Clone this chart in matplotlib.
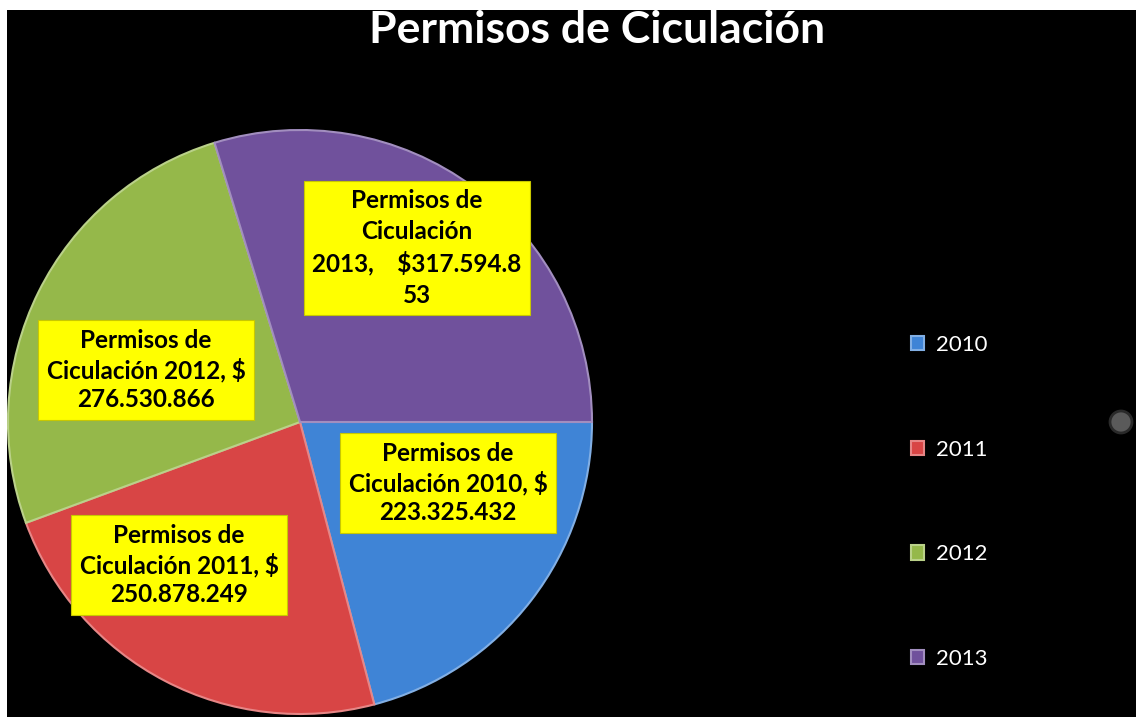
import matplotlib.pyplot as plt
from matplotlib.patches import Ellipse
import matplotlib.colors as mcolors

years = ['2010', '2011', '2012', '2013']
valores = [223325432, 250878249, 276530866, 317594853]
colores = ['#3F84D6', '#D84545', '#95B84A', '#70519C']

W, H = 1136, 717

def fmt(v):
    return '{:,}'.format(v).replace(',', '.')

def aclarar(c, f=0.35):
    rgb = mcolors.to_rgb(c)
    return tuple(x + (1 - x) * f for x in rgb)

fig = plt.figure(figsize=(W / 100, H / 100), dpi=100)
fig.patch.set_facecolor('white')

# black chart area (small white strip at top and left like the screenshot)
bg = fig.add_axes([7 / W, 0, 1 - 7 / W, (H - 10) / H], zorder=-1)
bg.set_facecolor('black')
bg.set_xticks([])
bg.set_yticks([])
for s in bg.spines.values():
    s.set_visible(False)
bg.set_xlim(7, W)
bg.set_ylim(0, H - 10)
# small grey knob at the right edge
bg.add_patch(Ellipse((1121, H - 422), 22, 22, facecolor='#5a5a5a',
                     edgecolor='#2a2a2a', linewidth=2))

# pie axes: centre (300, 422) px, radius 292 px
cx, cy, r = 300, 422, 292
ax = fig.add_axes([(cx - r) / W, (H - cy - r) / H, 2 * r / W, 2 * r / H])
ax.set_facecolor('none')
wedges, _ = ax.pie(valores, colors=colores, startangle=0, counterclock=False,
                   radius=1, wedgeprops=dict(linewidth=1.5))
for w, c in zip(wedges, colores):
    w.set_edgecolor(aclarar(c))
ax.set_xlim(-1, 1)
ax.set_ylim(-1, 1)
ax.set_aspect('equal')
ax.axis('off')

# data labels (yellow boxes)
textos = [
    'Permisos de\nCiculación {}, $\n{}'.format(years[0], fmt(valores[0])),
    'Permisos de\nCiculación {}, $\n{}'.format(years[1], fmt(valores[1])),
    'Permisos de\nCiculación {}, $\n{}'.format(years[2], fmt(valores[2])),
    'Permisos de\nCiculación\n{},    ${}\n{}'.format(years[3], fmt(valores[3])[:-2], fmt(valores[3])[-2:]),
]
pos_px = [(448, 483), (179, 565), (146, 370), (417, 248)]
espacio = [1.3, 1.3, 1.3, 1.4]
for t, (px, py), ls in zip(textos, pos_px, espacio):
    ax.text((px - cx) / r, (cy - py) / r, t, ha='center', va='center',
            fontsize=17.5, fontweight='bold', family='Lato', color='black',
            linespacing=ls,
            bbox=dict(boxstyle='square,pad=0.35', facecolor='#FFFF00',
                      edgecolor='#C8C800', linewidth=0.8))

fig.text(597 / W, 1 - 30 / H, 'Permisos de Ciculación', ha='center', va='center',
         fontsize=32, fontweight='bold', family='Lato', color='white')

leg = fig.legend(wedges, years, loc='center left',
                 bbox_to_anchor=(900 / W, 1 - 502 / H), frameon=False,
                 labelspacing=3.81, handlelength=0.6, handleheight=0.6,
                 handletextpad=0.5, borderpad=0,
                 prop=dict(family='Lato', size=16))
for txt in leg.get_texts():
    txt.set_color('white')

fig.savefig('out.png', dpi=100, facecolor=fig.get_facecolor())
